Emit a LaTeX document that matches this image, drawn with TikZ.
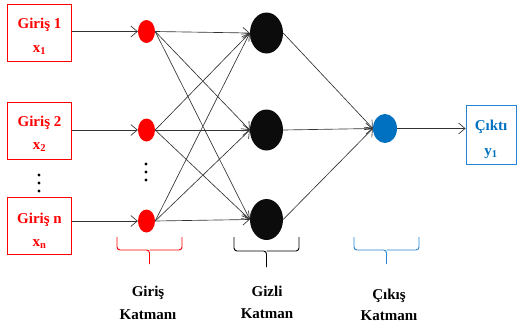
\documentclass[tikz,border=0pt]{standalone}
\usepackage{fontspec}
\setmainfont{Liberation Serif}[BoldFont={Liberation Serif Bold}]
\usetikzlibrary{arrows.meta,shapes.geometric}
\definecolor{ired}{RGB}{255,0,0}
\definecolor{oblue}{RGB}{0,112,192}
\definecolor{lblue}{RGB}{40,130,210}
\definecolor{agray}{RGB}{50,50,50}
\definecolor{nblack}{RGB}{12,12,12}
\begin{document}
\begin{tikzpicture}[x=1pt,y=-1pt,
  txt/.style={inner sep=0pt,anchor=base,font=\bfseries\fontsize{15}{17}\selectfont},
  inbox/.style={draw=ired,line width=0.9pt,minimum width=64pt,minimum height=57pt,inner sep=0pt},
  outbox/.style={draw=lblue,line width=0.9pt,minimum width=50pt,minimum height=59pt,inner sep=0pt},
  inode/.style={ellipse,fill=ired,minimum width=17pt,minimum height=23pt,inner sep=0pt},
  hnode/.style={ellipse,fill=nblack,minimum width=33pt,minimum height=41pt,inner sep=0pt},
  onode/.style={ellipse,fill=oblue,minimum width=24pt,minimum height=29pt,inner sep=0pt},
  arr/.style={draw=agray,line width=0.65pt,-{Straight Barb[length=6.5pt,width=11pt]}},
  bracestyle/.style={line width=0.9pt,rounded corners=3pt},
  dotnode/.style={circle,fill=black,minimum size=3.2pt,inner sep=0pt}
]
\useasboundingbox (0,0) rectangle (517,324);

% input boxes
\node[inbox] (b1) at (39.5,33) {};
\node[inbox] (b2) at (39.5,130.5) {};
\node[inbox] (bn) at (39.5,226) {};
\node[txt,text=ired] (t1a) at (39.5,28) {Giriş 1};
\node[txt,text=ired] (t1b) at (39.5,52) {x\textsubscript{1}};
\node[txt,text=ired] (t2a) at (39.5,126) {Giriş 2};
\node[txt,text=ired] (t2b) at (39.5,149) {x\textsubscript{2}};
\node[txt,text=ired] (tna) at (39.5,223) {Giriş n};
\node[txt,text=ired] (tnb) at (39.5,246) {x\textsubscript{n}};

% output box
\node[outbox] (y) at (491,134.5) {};
\node[txt,text=oblue] (tya) at (491,130) {Çıktı};
\node[txt,text=oblue] (tyb) at (491,155) {y\textsubscript{1}};

% dots
\node[dotnode] (d1) at (39,175) {};
\node[dotnode] (d2) at (39,183) {};
\node[dotnode] (d3) at (39,191) {};
\node[dotnode] (e1) at (146,164) {};
\node[dotnode] (e2) at (146,172) {};
\node[dotnode] (e3) at (146,180) {};

% neurons
\node[inode] (r1) at (146.5,31.5) {};
\node[inode] (r2) at (146.5,130) {};
\node[inode] (rn) at (146.5,221) {};
\node[hnode] (h1) at (266.5,33) {};
\node[hnode] (h2) at (266.5,130) {};
\node[hnode] (h3) at (266.5,219.5) {};
\node[onode] (o) at (385,128.5) {};

% connectors
\foreach \b/\r in {b1/r1,b2/r2,bn/rn}
  \draw[arr] (\b.east |- \r) -- (\r.west);
\foreach \r in {r1,r2,rn}
  \foreach \h in {h1,h2,h3}
    \draw[arr] (\r.east) -- (\h.west);
\foreach \h in {h1,h2,h3}
  \draw[arr] (\h.east) -- (o.west);
\draw[arr] (o.east) -- (y.west |- o);

% braces
\draw[bracestyle,ired] (117,237) -- (117,250) -- (149.5,250) -- (149.5,264);
\draw[bracestyle,ired] (182,237) -- (182,250) -- (149.5,250);
\draw[bracestyle,black] (234,237) -- (234,251) -- (266.5,251) -- (266.5,267);
\draw[bracestyle,black] (299,237) -- (299,251) -- (266.5,251);
\draw[bracestyle,lblue] (354,237) -- (354,250) -- (386.5,250) -- (386.5,264);
\draw[bracestyle,lblue] (419,237) -- (419,250) -- (386.5,250);

% layer labels
\node[txt] (l1a) at (148,296) {Giriş};
\node[txt] (l1b) at (148,319) {Katmanı};
\node[txt] (l2a) at (267,296) {Gizli};
\node[txt] (l2b) at (267,318) {Katman};
\node[txt] (l3a) at (389,299) {Çıkış};
\node[txt] (l3b) at (389,320) {Katmanı};
\end{tikzpicture}
\end{document}
